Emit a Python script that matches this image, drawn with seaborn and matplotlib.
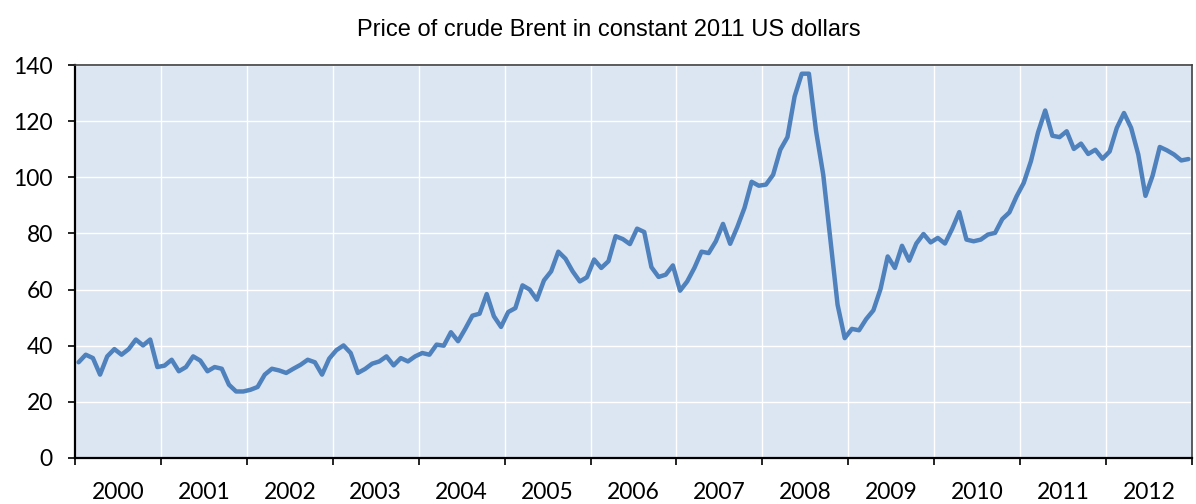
import numpy as np
import pandas as pd
import matplotlib
matplotlib.use('Agg')
import matplotlib.pyplot as plt
from matplotlib.ticker import FixedLocator, NullFormatter
import seaborn as sns

# monthly Brent price, constant 2011 USD
years = list(range(2000, 2013))
brent_2000 = [34.1, 36.8, 35.6, 29.7, 36.2, 38.8, 36.8, 38.8, 42.2, 40.1, 42.2, 32.4]
brent_2001 = [32.9, 35.0, 30.9, 32.4, 36.2, 34.7, 30.9, 32.4, 31.8, 26.1, 23.7, 23.7]
brent_2002 = [24.3, 25.3, 29.7, 31.8, 31.2, 30.3, 31.8, 33.2, 35.0, 34.1, 29.7, 35.4]
brent_2003 = [38.4, 40.1, 37.4, 30.3, 31.7, 33.6, 34.4, 36.2, 33.0, 35.6, 34.4, 36.2]
brent_2004 = [37.4, 36.8, 40.4, 40.0, 44.8, 41.6, 46.0, 50.7, 51.4, 58.4, 50.5, 46.7]
brent_2005 = [52.0, 53.4, 61.5, 60.0, 56.4, 63.3, 66.5, 73.5, 71.0, 66.5, 62.9, 64.4]
brent_2006 = [70.7, 67.7, 70.1, 79.0, 78.0, 76.2, 81.7, 80.5, 68.0, 64.5, 65.3, 68.6]
brent_2007 = [59.6, 62.9, 67.7, 73.5, 73.0, 77.2, 83.4, 76.3, 82.3, 89.1, 98.4, 97.0]
brent_2008 = [97.4, 100.9, 109.8, 114.3, 128.8, 136.9, 136.9, 116.4, 100.9, 77.8, 54.6, 42.7]
brent_2009 = [46.0, 45.5, 49.5, 52.6, 60.2, 71.8, 67.7, 75.6, 70.3, 76.4, 79.8, 76.8]
brent_2010 = [78.4, 76.4, 81.6, 87.6, 77.8, 77.2, 77.8, 79.6, 80.2, 85.1, 87.5, 93.2]
brent_2011 = [98.0, 105.7, 116.0, 123.8, 114.8, 114.3, 116.4, 110.1, 112.0, 108.3, 109.8, 106.6]
brent_2012 = [109.2, 117.6, 122.9, 117.6, 108.1, 93.4, 100.6, 110.8, 109.6, 108.1, 106.0, 106.5]

all_years = [brent_2000, brent_2001, brent_2002, brent_2003, brent_2004, brent_2005,
             brent_2006, brent_2007, brent_2008, brent_2009, brent_2010, brent_2011,
             brent_2012]

rows = []
for yr, vals in zip(years, all_years):
    for m, v in enumerate(vals, start=1):
        rows.append({'year': yr, 'month': m, 'price': v})
df = pd.DataFrame(rows)
# each month sits in the middle of its slot on a continuous year scale
df['t'] = df['year'] + (df['month'] - 0.5) / 12

sns.set_theme(style='darkgrid')
plt.rcParams['font.family'] = ['Lato', 'DejaVu Sans']

fig = plt.figure(figsize=(11.96, 5.04), dpi=100)
ax = fig.add_axes([75 / 1196, 46 / 504, 1117 / 1196, 393 / 504])
ax.set_facecolor('#DCE6F2')

sns.lineplot(data=df, x='t', y='price', color='#4F81BD', linewidth=3.2, ax=ax)

ax.set_xlim(2000, 2013)
ax.set_ylim(0, 140)
ax.set_yticks(range(0, 141, 20))

# year boundaries carry tick marks + grid, labels sit in the middle of each year
ax.xaxis.set_major_locator(FixedLocator(list(range(2000, 2014))))
ax.xaxis.set_major_formatter(NullFormatter())
ax.xaxis.set_minor_locator(FixedLocator([y + 0.5 for y in years]))
ax.set_xticklabels([str(y) for y in years], minor=True)

ax.grid(True, which='major', color='white', linewidth=1.0)
ax.grid(False, which='minor')

ax.tick_params(axis='x', which='major', direction='out', length=5, width=1.2,
               color='black', bottom=True)
ax.tick_params(axis='x', which='minor', length=0, pad=17, labelsize=16.5,
               labelcolor='black')
ax.tick_params(axis='y', direction='out', length=5, width=1.2, color='black',
               left=True, pad=11, labelsize=16.5, labelcolor='black')

for side in ['left', 'bottom']:
    ax.spines[side].set_visible(True)
    ax.spines[side].set_color('black')
    ax.spines[side].set_linewidth(1.6)
for side in ['top', 'right']:
    ax.spines[side].set_visible(True)
    ax.spines[side].set_color('#404040')
    ax.spines[side].set_linewidth(1.2)

ax.set_xlabel('')
ax.set_ylabel('')

fig.text(609 / 1196, 1 - 36 / 504, 'Price of crude Brent in constant 2011 US dollars',
         ha='center', va='baseline', fontsize=17,
         family=['Liberation Sans', 'DejaVu Sans'], color='black')

fig.savefig('out.png', dpi=100)
plt.close(fig)
